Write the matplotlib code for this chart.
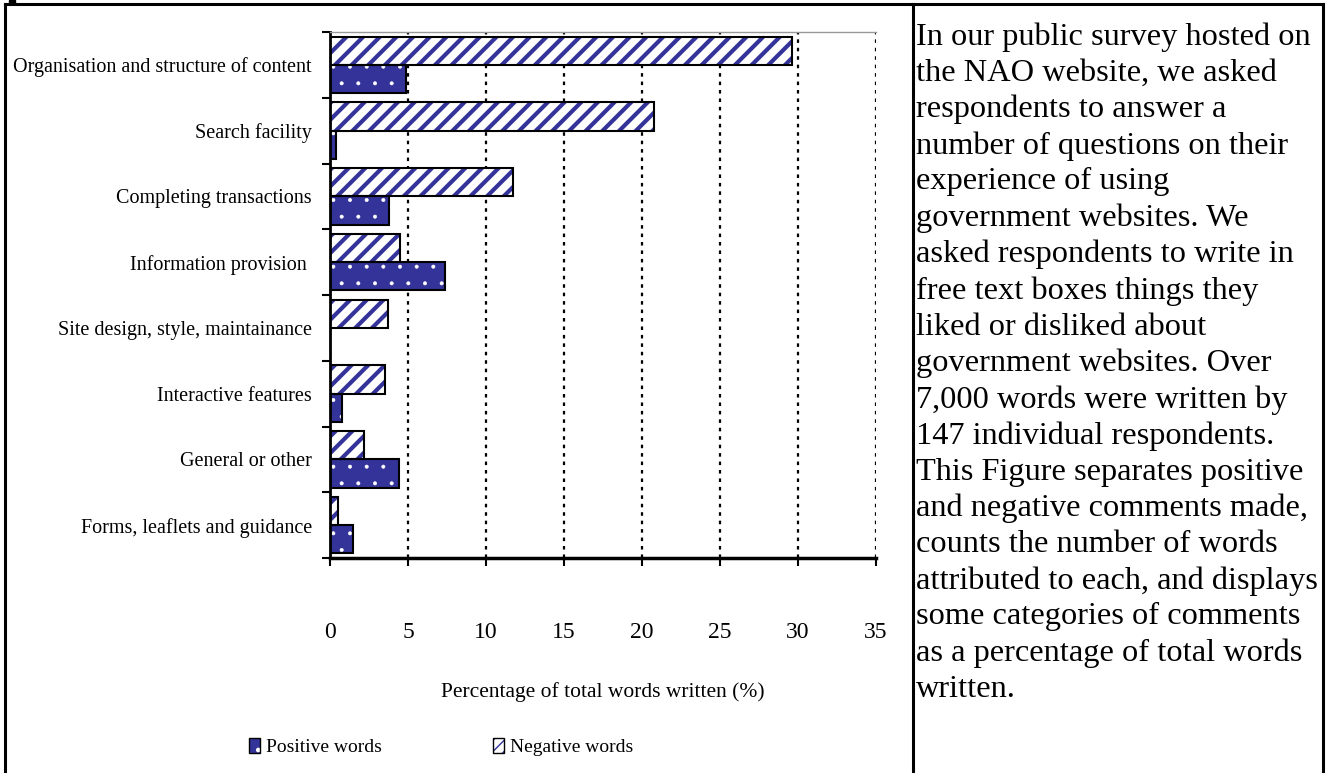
import matplotlib.pyplot as plt
import matplotlib.patches as mpatches
from matplotlib.lines import Line2D
from matplotlib.legend_handler import HandlerTuple
import numpy as np

plt.rcParams['font.family'] = ['Liberation Serif', 'DejaVu Serif']

categories = ['Organisation and structure of content', 'Search facility',
              'Completing transactions', 'Information provision ',
              'Site design, style, maintainance', 'Interactive features',
              'General or other', 'Forms, leaflets and guidance']
negative = [29.6, 20.8, 11.7, 4.5, 3.7, 3.5, 2.2, 0.5]
positive = [4.9, 0.4, 3.8, 7.4, 0.0, 0.8, 4.4, 1.5]

navy = '#333399'
bar_h = 0.43
y = np.arange(len(categories))

fig = plt.figure(figsize=(13.27, 7.73), dpi=100)
ax = fig.add_axes([330 / 1327, 1 - 558 / 773, 546 / 1327, 526 / 773])

# vertical dotted grid
for gx in range(5, 40, 5):
    ax.axvline(gx, color='black', lw=1.6, linestyle=(0, (1.6, 2.2)), zorder=1)

def hatch_lw(bars, lw):
    for b in bars:
        if hasattr(b, 'set_hatch_linewidth'):
            b.set_hatch_linewidth(lw)

# negative: white with navy stripes
neg = ax.barh(y - bar_h / 2, negative, height=bar_h, color='white',
              edgecolor=navy, hatch='//', linewidth=0, zorder=2)
hatch_lw(neg, 3.0)
ax.barh(y - bar_h / 2, negative, height=bar_h, fill=False,
        edgecolor='black', linewidth=1.5, zorder=3)

# positive: navy with white dots
pos = ax.barh(y + bar_h / 2, positive, height=bar_h, color=navy,
              edgecolor='white', hatch='.', linewidth=0, zorder=2)
hatch_lw(pos, 0.4)
pos_mask = [v > 0 for v in positive]
ax.barh((y + bar_h / 2)[pos_mask], np.array(positive)[pos_mask], height=bar_h,
        fill=False, edgecolor='black', linewidth=1.5, zorder=3)

ax.set_xlim(0, 35)
ax.set_ylim(len(categories) - 0.5, -0.5)
ax.set_xticks(range(0, 40, 5))
ax.set_xticklabels([str(v) for v in range(0, 40, 5)], fontsize=17)
ax.tick_params(axis='x', length=6, width=1.5, pad=40)

ax.set_yticks(np.arange(len(categories) + 1) - 0.5)
ax.set_yticklabels([])
ax.set_yticks(y, minor=True)
ax.set_yticklabels(categories, minor=True, fontsize=14.5)
ax.tick_params(axis='y', which='major', length=6, width=1.5)
ax.tick_params(axis='y', which='minor', length=0, pad=13)

ax.spines['right'].set_visible(False)
ax.spines['top'].set_color('#999999')
ax.spines['top'].set_linewidth(1)
ax.spines['left'].set_linewidth(2)
ax.spines['bottom'].set_linewidth(2.5)

ax.set_xlabel('Percentage of total words written (%)', fontsize=15.5)
ax.xaxis.label.set_va('center')
ax.xaxis.set_label_coords(0.5, -0.255)

# legend
p_fill = mpatches.Patch(facecolor=navy, edgecolor='white', hatch='.', linewidth=0)
p_out = mpatches.Patch(fill=False, edgecolor='black', linewidth=1)
n_fill = mpatches.Patch(facecolor='white', edgecolor=navy, hatch='///', linewidth=0)
n_out = mpatches.Patch(fill=False, edgecolor='black', linewidth=1)
fig.legend([(p_fill, p_out), (n_fill, n_out)], ['Positive words', 'Negative words'],
           handler_map={tuple: HandlerTuple(ndivide=1)},
           loc='center', bbox_to_anchor=(441 / 1327, 1 - 747 / 773), ncol=2,
           frameon=False, fontsize=14, handlelength=0.6, handleheight=0.8,
           handletextpad=0.3, columnspacing=5.7)

# text panel
text = ("In our public survey hosted on\n"
        "the NAO website, we asked\n"
        "respondents to answer a\n"
        "number of questions on their\n"
        "experience of using\n"
        "government websites. We\n"
        "asked respondents to write in\n"
        "free text boxes things they\n"
        "liked or disliked about\n"
        "government websites. Over\n"
        "7,000 words were written by\n"
        "147 individual respondents.\n"
        "This Figure separates positive\n"
        "and negative comments made,\n"
        "counts the number of words\n"
        "attributed to each, and displays\n"
        "some categories of comments\n"
        "as a percentage of total words\n"
        "written.")
fig.text(916 / 1327, 1 - 363 / 773, text, fontsize=23.3, ha='left', va='center',
         linespacing=1.31)

# page frame
lw_f = 2.2
top_y = 1 - 4 / 773
fig.add_artist(Line2D([5 / 1327, 1323 / 1327], [top_y, top_y], color='black', lw=lw_f))
for fx in (5, 913, 1323):
    fig.add_artist(Line2D([fx / 1327, fx / 1327], [0, top_y], color='black', lw=lw_f))
fig.add_artist(mpatches.Rectangle((9 / 1327, top_y), 6 / 1327, 4 / 773,
                                  transform=fig.transFigure, color='black'))

fig.savefig('out.png', dpi=100)
